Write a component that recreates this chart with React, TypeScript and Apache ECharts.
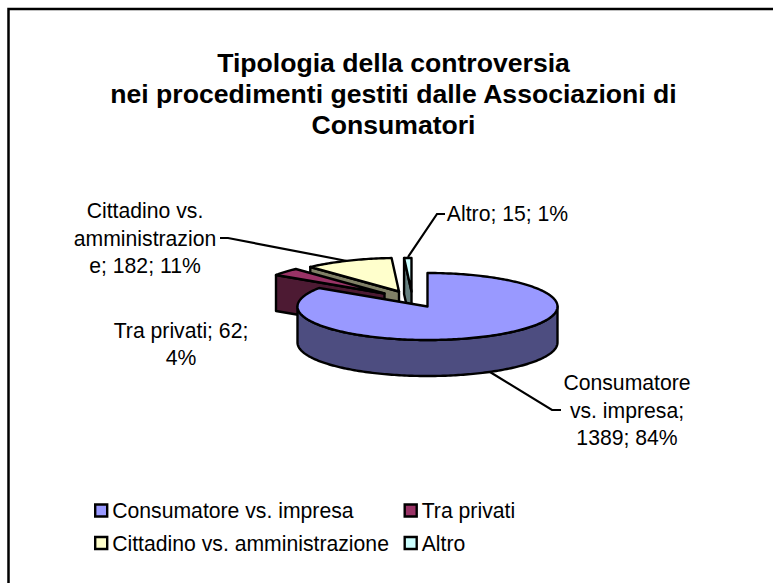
import React, { useEffect, useRef } from "react";
import * as echarts from "echarts";

const titleText = "Tipologia della controversia\nnei procedimenti gestiti dalle Associazioni di\nConsumatori";
const categories = ["Consumatore vs. impresa", "Tra privati", "Cittadino vs. amministrazione", "Altro"];
const values = [1389, 62, 182, 15];
const percents = [84, 4, 11, 1];
const labelBreaks = [
  "Consumatore\nvs. impresa;\n1389; 84%",
  "Tra privati; 62;\n4%",
  "Cittadino vs.\namministrazion\ne; 182; 11%",
  "Altro; 15; 1%",
];
const topColors = ["#9999FF", "#993366", "#FFFFCC", "#CCFFFF"];
const sideColors = ["#4D4D80", "#4D1A33", "#808066", "#668080"];

// Layout of the tilted pie
const CX = 427.5, CY = 306.5, RX = 130, RY = 33.5, DEPTH = 36;
const explode = [[0, 0], [-43, -13], [-28.5, -15], [-16, -15]];
const labelPos = [[627, 382], [181, 329.5], [145, 210], [507.5, 213]];
const leaders = [
  [[490, 372], [552, 410], [561, 410]],
  [],
  [[220, 238], [228, 238], [347, 261]],
  [[445, 214], [437, 214], [408, 257]],
];

const total = values.reduce((a, b) => a + b, 0);
const FULL = Math.PI * 2;
const startOf = (i: number) => (values.slice(0, i).reduce((a, b) => a + b, 0) / total) * FULL;

function makeRenderItem(i: number) {
  return (_params: any, api: any) => {
    const v = api.value(0) as number;
    const a0 = startOf(i);
    const a1 = a0 + (v / total) * FULL;
    const ax = CX + explode[i][0];
    const ay = CY + explode[i][1];
    const rim = (t: number, d = 0) => [ax + RX * Math.sin(t), ay - RY * Math.cos(t) + d];
    const arc = (from: number, to: number, d = 0) => {
      const n = Math.max(2, Math.ceil(Math.abs(to - from) / 0.02));
      const pts: number[][] = [];
      for (let k = 0; k <= n; k++) pts.push(rim(from + ((to - from) * k) / n, d));
      return pts;
    };
    const stroke = { stroke: "#000", lineWidth: 2.4, lineJoin: "round" };
    const side = { fill: sideColors[i], ...stroke };
    const children: any[] = [];
    // edge face at the start of the slice, when it looks toward the viewer
    if (Math.sin(a0) < -1e-6) {
      children.push({
        type: "polygon",
        shape: { points: [rim(a0), [ax, ay], [ax, ay + DEPTH], rim(a0, DEPTH)] },
        style: side,
      });
    }
    // outer wall: only the front half of the ellipse is seen
    const f0 = Math.max(a0, Math.PI / 2);
    const f1 = Math.min(a1, (Math.PI * 3) / 2);
    if (f1 > f0) {
      children.push({
        type: "polygon",
        shape: { points: [...arc(f0, f1), ...arc(f1, f0, DEPTH)] },
        style: side,
      });
    }
    children.push({
      type: "polygon",
      shape: { points: [[ax, ay], ...arc(a0, a1)] },
      style: { fill: topColors[i], ...stroke },
    });
    return { type: "group", children };
  };
}

const drawOrder = [3, 2, 1, 0];

export default function App() {
  const ref = useRef<HTMLDivElement>(null);
  useEffect(() => {
    const chart = echarts.init(ref.current!, undefined, { renderer: "svg" });
    const font = "'Liberation Sans', Arial, sans-serif";
    const legendBase = {
      orient: "vertical",
      top: 493.5,
      itemWidth: 12,
      itemHeight: 12,
      itemGap: 8.5,
      icon: "rect",
      selectedMode: false,
      itemStyle: { borderColor: "#000", borderWidth: 2.4 },
      textStyle: { fontFamily: font, fontSize: 21.2, color: "#000", lineHeight: 24, padding: 0 },
    };
    chart.setOption({
      animation: false,
      backgroundColor: "#fff",
      title: {
        text: titleText,
        left: 388.5,
        top: 42,
        textAlign: "center",
        textStyle: { fontFamily: font, fontSize: 26.6, fontWeight: "bold", color: "#000", lineHeight: 31.3 },
      },
      legend: [
        { ...legendBase, left: 89, data: [categories[0], categories[2]] },
        { ...legendBase, left: 398.5, data: [categories[1], categories[3]] },
      ],
      graphic: [
        {
          type: "polyline",
          shape: { points: [[8.5, 583], [8.5, 9], [773, 9]] },
          style: { fill: "none", stroke: "#000", lineWidth: 2.5 },
          silent: true,
        },
        ...leaders
          .filter((p) => p.length)
          .map((p) => ({
            type: "polyline",
            shape: { points: p },
            style: { fill: "none", stroke: "#000", lineWidth: 2.2 },
            silent: true,
          })),
        ...labelBreaks.map((t, i) => ({
          type: "text",
          x: labelPos[i][0],
          y: labelPos[i][1] - 13,
          silent: true,
          style: {
            text: t,
            fontFamily: font,
            fontSize: 21.2,
            lineHeight: 27.5,
            fill: "#000",
            align: "center",
            verticalAlign: "top",
          },
        })),
      ],
      series: drawOrder.map((i) => ({
        type: "custom",
        name: categories[i],
        coordinateSystem: "none",
        silent: true,
        itemStyle: { color: topColors[i] },
        data: [[values[i], percents[i]]],
        renderItem: makeRenderItem(i),
      })),
    });
    return () => chart.dispose();
  }, []);
  return <div ref={ref} style={{ position: "absolute", left: 0, top: 0, width: 773, height: 583 }} />;
}
